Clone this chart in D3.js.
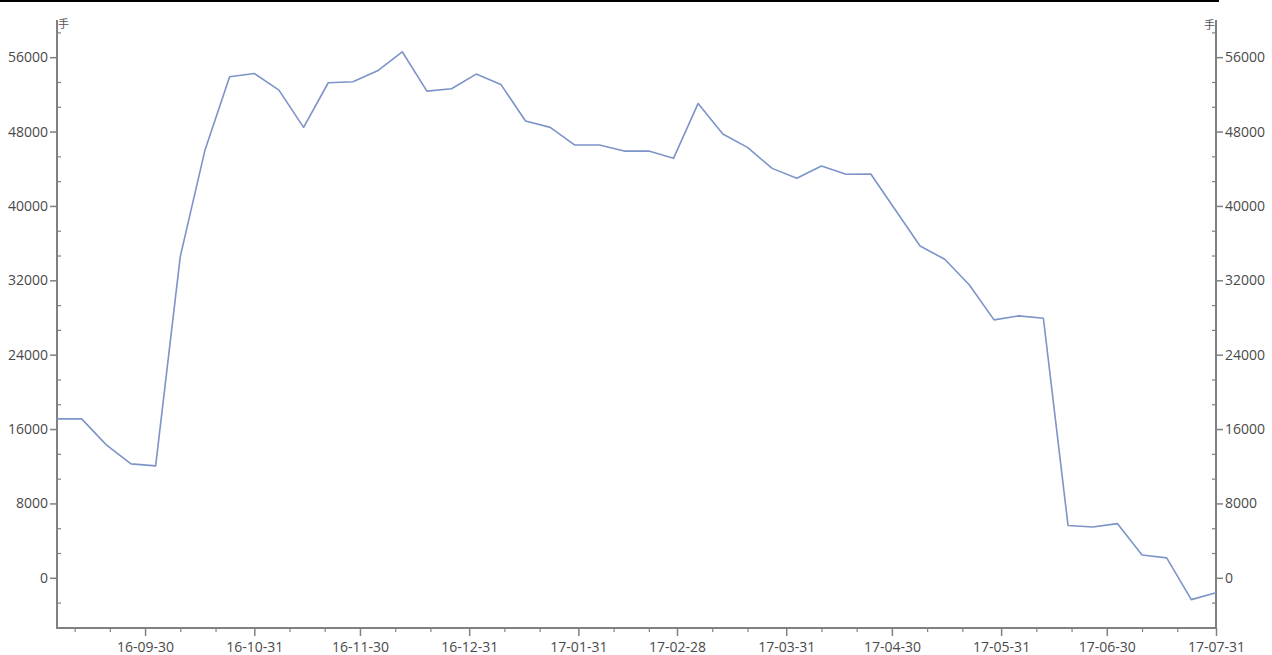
<!DOCTYPE html>
<html>
<head>
<meta charset="utf-8">
<script src="https://cdn.jsdelivr.net/npm/d3@7/dist/d3.min.js"></script>
<style>
  html, body { margin: 0; padding: 0; background: #fff; }
  svg { display: block; }
  text { font-family: "Open Sans", "Noto Sans", sans-serif; }
</style>
</head>
<body>
<svg id="chart" width="1272" height="655"></svg>
<script>
// ---- data ----
const startDate = "2016-09-05";
const endDate = "2017-07-31";
const dates = [
  "2016-09-05","2016-09-12","2016-09-19","2016-09-26","2016-10-03","2016-10-10","2016-10-17","2016-10-24",
  "2016-10-31","2016-11-07","2016-11-14","2016-11-21","2016-11-28","2016-12-05","2016-12-12","2016-12-19",
  "2016-12-26","2017-01-02","2017-01-09","2017-01-16","2017-01-23","2017-01-30","2017-02-06","2017-02-13",
  "2017-02-20","2017-02-27","2017-03-06","2017-03-13","2017-03-20","2017-03-27","2017-04-03","2017-04-10",
  "2017-04-17","2017-04-24","2017-05-01","2017-05-08","2017-05-15","2017-05-22","2017-05-29","2017-06-05",
  "2017-06-12","2017-06-19","2017-06-26","2017-07-03","2017-07-10","2017-07-17","2017-07-24","2017-07-31"
];
const values = [
  17090, 17090, 14300, 12250, 12040, 34570, 46000, 53900,
  54250, 52460, 48450, 53250, 53360, 54540, 56580, 52350,
  52600, 54180, 53070, 49130, 48450, 46550, 46550, 45900,
  45900, 45120, 51030, 47730, 46300, 44040, 42970, 44290,
  43400, 43430, 39560, 35690, 34260, 31500, 27740, 28170,
  27920, 5620, 5460, 5830, 2460, 2140, -2350, -1610
];
const yTickValues = [0, 8000, 16000, 24000, 32000, 40000, 48000, 56000];
const yDomain = [-5400, 60000];
const unitLabel = "手";

(function () {
// ---- layout ----
const svg = d3.select("#chart");
const pl = 57, pr = 1216, pt = 20, pb = 628;
const parse = d3.timeParse("%Y-%m-%d");
const fmt = d3.timeFormat("%y-%m-%d");
const axisColor = "#808080", textColor = "#4a4a4a";

const x = d3.scaleTime().domain([parse(startDate), parse(endDate)]).range([pl, pr]);
const y = d3.scaleLinear().domain(yDomain).range([pb, pt]);

// top black rule
svg.append("line").attr("x1", 0).attr("x2", 1219).attr("y1", 1).attr("y2", 1)
  .attr("stroke", "#000").attr("stroke-width", 2);

// x ticks: month ends (major), 10th / 20th (minor)
const months = d3.timeMonth.range(parse("2016-09-01"), parse("2017-08-01"));
const majorX = months.map(m => d3.timeDay.offset(d3.timeMonth.offset(m, 1), -1));
const minorX = [];
months.forEach(m => {
  [10, 20].forEach(d => {
    const dt = new Date(m.getFullYear(), m.getMonth(), d);
    if (dt >= x.domain()[0] && dt <= x.domain()[1]) minorX.push(dt);
  });
});

const gx = svg.append("g").attr("transform", `translate(0,${pb})`);
gx.call(d3.axisBottom(x).tickValues(minorX).tickSize(4).tickFormat(""))
  .call(g => g.select(".domain").remove());
gx.selectAll("line").attr("stroke", axisColor).attr("stroke-width", 1.2);
const gx2 = svg.append("g").attr("transform", `translate(0,${pb})`);
gx2.call(d3.axisBottom(x).tickValues(majorX).tickSize(8).tickPadding(6).tickFormat(fmt));
gx2.select(".domain").remove();
gx2.selectAll("line").attr("stroke", axisColor).attr("stroke-width", 1.5);
gx2.selectAll("text").attr("fill", textColor).style("font-size", "14px");

// y minor ticks (inside)
const minorY = d3.range(-2, 23).map(i => i * 8000 / 3)
  .filter(v => v >= yDomain[0] && v <= yDomain[1] && Math.abs(v % 8000) > 1);

function yAxis(side) {
  const xpos = side === "left" ? pl : pr;
  const gm = svg.append("g").attr("transform", `translate(${xpos},0)`);
  gm.call((side === "left" ? d3.axisRight : d3.axisLeft)(y).tickValues(minorY).tickSize(4).tickFormat(""));
  gm.select(".domain").remove();
  gm.selectAll("line").attr("stroke", axisColor).attr("stroke-width", 1.2);
  const g = svg.append("g").attr("transform", `translate(${xpos},0)`);
  g.call((side === "left" ? d3.axisLeft : d3.axisRight)(y).tickValues(yTickValues).tickSize(7).tickPadding(2).tickFormat(d3.format("d")));
  g.select(".domain").remove();
  g.selectAll("line").attr("stroke", axisColor).attr("stroke-width", 1.5);
  g.selectAll("text").attr("fill", textColor).style("font-size", "14px");
}
yAxis("left");
yAxis("right");

// axis lines
svg.append("line").attr("x1", pl).attr("x2", pl).attr("y1", pt).attr("y2", pb)
  .attr("stroke", axisColor).attr("stroke-width", 2);
svg.append("line").attr("x1", pr).attr("x2", pr).attr("y1", pt).attr("y2", pb)
  .attr("stroke", axisColor).attr("stroke-width", 2);
svg.append("line").attr("x1", pl - 1).attr("x2", pr + 1).attr("y1", pb).attr("y2", pb)
  .attr("stroke", axisColor).attr("stroke-width", 2);

// unit labels
svg.append("text").attr("x", pl + 1).attr("y", 28).attr("fill", "#555")
  .style("font-family", "'Noto Sans CJK SC', sans-serif").style("font-size", "11px").text(unitLabel);
svg.append("text").attr("x", pr - 1).attr("y", 29).attr("text-anchor", "end").attr("fill", "#555")
  .style("font-family", "'Noto Sans CJK SC', sans-serif").style("font-size", "11px").text(unitLabel);

// line
const data = dates.map((d, i) => ({ date: parse(d), value: values[i] }));
svg.append("path").datum(data)
  .attr("fill", "none").attr("stroke", "#7c94c8").attr("stroke-width", 1.6)
  .attr("stroke-linejoin", "round")
  .attr("d", d3.line().x(d => x(d.date)).y(d => y(d.value)));
})();
</script>
</body>
</html>
